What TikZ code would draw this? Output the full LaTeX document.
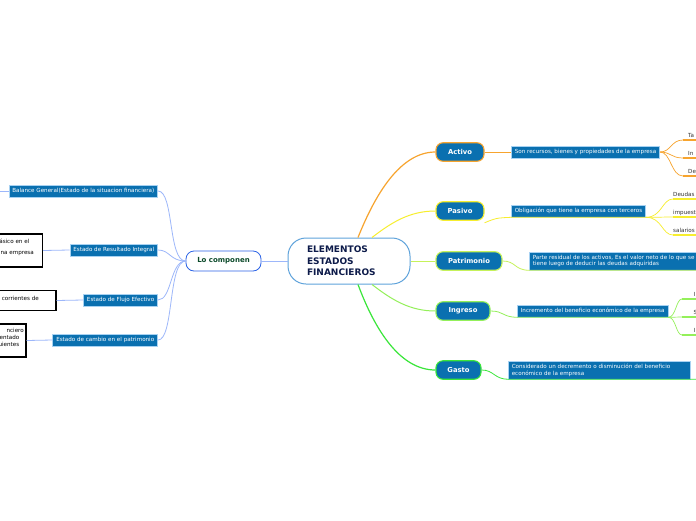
\documentclass[tikz,border=0pt]{standalone}
\usepackage{fontspec}
\setmainfont{DejaVu Sans}
\definecolor{boxblue}{HTML}{0A70B0}
\definecolor{boxedge}{HTML}{A8D2F2}
\definecolor{cedge}{HTML}{5FA3DB}
\definecolor{loedge}{HTML}{2B63E6}
\definecolor{navy}{HTML}{0D1B4A}
\definecolor{lotext}{HTML}{0B4A2A}
\definecolor{leftc}{HTML}{9DB7FA}
\definecolor{orC}{HTML}{F7A42E}
\definecolor{yeC}{HTML}{F7EE2E}
\definecolor{pgC}{HTML}{C6F25A}
\definecolor{inC}{HTML}{94F05A}
\definecolor{gaC}{HTML}{3AE63A}
\definecolor{grayt}{HTML}{333333}
\begin{document}
\begin{tikzpicture}[x=1pt,y=-1pt,
  central/.style={draw=cedge, fill=white, line width=1pt, rounded corners=18pt,
    minimum width=122pt, minimum height=46pt, text width=84pt, align=left,
    inner sep=0pt, font=\bfseries\fontsize{9}{11.5}\selectfont, text=navy},
  lonode/.style={draw=loedge, fill=white, line width=0.8pt, rounded corners=8pt,
    minimum width=75pt, minimum height=20pt, inner sep=0pt,
    font=\bfseries\fontsize{7}{8}\selectfont, text=lotext},
  leaf/.style={draw=boxedge, fill=boxblue, line width=0.6pt, text=white,
    font=\fontsize{5.6}{6.8}\selectfont, inner xsep=3.5pt, inner ysep=0pt,
    minimum height=12pt, align=left},
  mainnode/.style={fill=boxblue, line width=1.1pt, rounded corners=7pt,
    minimum height=18.5pt, inner sep=0pt, text=white,
    font=\bfseries\fontsize{6.8}{8}\selectfont},
  blackbox/.style={draw=black, line width=1.3pt, fill=white, inner sep=0pt},
  smalltext/.style={font=\fontsize{5.6}{6}\selectfont, text=black, inner sep=0pt},
  kid/.style={font=\fontsize{5.6}{6}\selectfont, text=grayt, anchor=south west,
    inner xsep=0pt, inner ysep=2pt, text depth=0pt, align=left},
  leftline/.style={draw=leftc, line width=0.8pt},
]
\useasboundingbox (0,0) rectangle (696,520);
\fill[white] (0,0) rectangle (696,520);

% centre and left side
\node[central] (c) at (349,261) {ELEMENTOS\\ESTADOS\\FINANCIEROS};
\node[lonode] (lo) at (223.5,261) {Lo componen};
\draw[leftline] (lo.east) -- (c.west);

\node[leaf, anchor=east] (bal) at (158,191) {Balance General(Estado de la situacion financiera)};
\node[leaf, anchor=east] (res) at (158,250) {Estado de Resultado Integral};
\node[leaf, anchor=east] (flu) at (158,300) {Estado de Flujo Efectivo};
\node[leaf, anchor=east] (cam) at (158,340) {Estado de cambio en el patrimonio};

\draw[leftline] (lo.west) .. controls (168,261) and (174,191) .. (bal.east);
\draw[leftline] (lo.west) .. controls (170,261) and (170,250) .. (res.east);
\draw[leftline] (lo.west) .. controls (170,261) and (172,300) .. (flu.east);
\draw[leftline] (lo.west) .. controls (168,261) and (174,340) .. (cam.east);

\coordinate (balL) at (-10,191);
\draw[leftline] (balL) -- (bal.west);

\node[blackbox, anchor=east, minimum width=120pt, minimum height=33pt] (b1) at (43,250.5) {};
\node[smalltext, anchor=east] (b1a) at (29.5,241.5) {ásico en el};
\node[smalltext, anchor=east] (b1b) at (34,253.5) {na empresa};
\node[blackbox, anchor=east, minimum width=120pt, minimum height=19.5pt] (b2) at (56.5,300.5) {};
\node[smalltext, anchor=east] (b2a) at (39,298) {s corrientes de};
\node[blackbox, anchor=east, minimum width=120pt, minimum height=33pt] (b3) at (26.5,340.5) {};
\node[smalltext, anchor=east] (b3a) at (24,330) {nciero};
\node[smalltext, anchor=east] (b3b) at (19.5,337.5) {entado};
\node[smalltext, anchor=east] (b3c) at (19.5,344.5) {uientes};

\draw[leftline] (b1.east) -- (res.west);
\draw[leftline] (b2.east) -- (flu.west);
\draw[leftline] (b3.east) -- (cam.west);

% right side main nodes
\node[mainnode, draw=orC, minimum width=48pt] (act) at (460,152) {Activo};
\node[mainnode, draw=yeC, minimum width=48pt] (pas) at (460,211) {Pasivo};
\node[mainnode, draw=pgC, minimum width=66pt] (pat) at (469,261) {Patrimonio};
\node[mainnode, draw=inC, minimum width=54pt] (ing) at (463,311) {Ingreso};
\node[mainnode, draw=gaC, minimum width=45pt] (gas) at (458.5,370) {Gasto};

\draw[orC, line width=1.2pt] ([xshift=9pt]c.north) .. controls (375,195) and (400,152) .. (act.west);
\draw[yeC, line width=1pt] ([xshift=23pt]c.north) .. controls (392,222) and (410,211) .. (pas.west);
\draw[pgC, line width=1pt] (c.east) -- (pat.west);
\draw[inC, line width=1pt] ([xshift=23pt]c.south) .. controls (392,300) and (410,311) .. (ing.west);
\draw[gaC, line width=1.2pt] ([xshift=9pt]c.south) .. controls (375,330) and (400,370) .. (gas.west);

% second level
\node[leaf, anchor=west] (actd) at (511,152) {Son recursos, bienes y propiedades de la empresa};
\node[leaf, anchor=west] (pasd) at (511,211) {Obligación que tiene la empresa con terceros};
\node[leaf, anchor=west, minimum height=18pt] (patd) at (529,261) {Parte residual de los activos, Es el valor neto de lo que se\\tiene luego de deducir las deudas adquiridas};
\node[leaf, anchor=west] (ingd) at (517,311) {Incremento del beneficio económico de la empresa};
\node[leaf, anchor=west, minimum height=18pt, text width=175pt] (gasd) at (508,370) {Considerado un decremento o disminución del beneficio\\económico de la empresa};

\draw[orC, line width=0.8pt] (act.east) -- (actd.west);
\draw[yeC, line width=0.8pt] ([yshift=-2pt]pas.south east) .. controls (498,217) and (500,218) .. (pasd.south west) -- (pasd.south east);
\draw[pgC, line width=0.8pt] (pat.east) .. controls (516,261) and (514,270) .. (patd.south west) -- (patd.south east) -- ++(20,0);
\draw[inC, line width=0.8pt] (ing.east) .. controls (504,311) and (502,317) .. (ingd.south west) -- (ingd.south east);
\draw[gaC, line width=0.8pt] (gas.east) .. controls (494,370) and (494,379) .. (gasd.south west) -- (gasd.south east) -- ++(20,0);

% third level
\coordinate (xa) at (671,0);
\coordinate (xp) at (662,0);
\coordinate (xi) at (676,0);
\node[kid, text width=20pt] (a1) at (683,140) {\hspace*{5pt}Ta};
\node[kid, text width=20pt] (a2) at (683,158) {\hspace*{5pt}In};
\node[kid, text width=20pt] (a3) at (683,176) {\hspace*{5pt}De};
\foreach \k in {a1,a2,a3} {
  \draw[orC, line width=1.3pt] (\k.south west) -- (\k.south east);
  \draw[orC, line width=0.7pt] (actd.east) .. controls (xa |- actd.east) and (xa |- \k.south west) .. (\k.south west);
}
\node[kid, text width=30pt] (p1) at (673,199) {Deudas};
\node[kid, text width=30pt] (p2) at (673,217) {impuest};
\node[kid, text width=30pt] (p3) at (673,235) {salarios};
\foreach \k in {p1,p2,p3} {
  \draw[yeC, line width=1.3pt] (\k.south west) -- (\k.south east);
  \draw[yeC, line width=0.7pt] (pasd.south east) .. controls (xp |- pasd.south east) and (xp |- \k.south west) .. (\k.south west);
}
\node[kid, text width=20pt] (i1) at (682,299) {\hspace*{11.5pt}I};
\node[kid, text width=20pt] (i2) at (682,317) {\hspace*{11.5pt}S};
\node[kid, text width=20pt] (i3) at (682,335) {\hspace*{11.5pt}I};
\foreach \k in {i1,i2,i3} {
  \draw[inC, line width=1.3pt] (\k.south west) -- (\k.south east);
  \draw[inC, line width=0.7pt] (ingd.south east) .. controls (xi |- ingd.south east) and (xi |- \k.south west) .. (\k.south west);
}
\end{tikzpicture}
\end{document}
